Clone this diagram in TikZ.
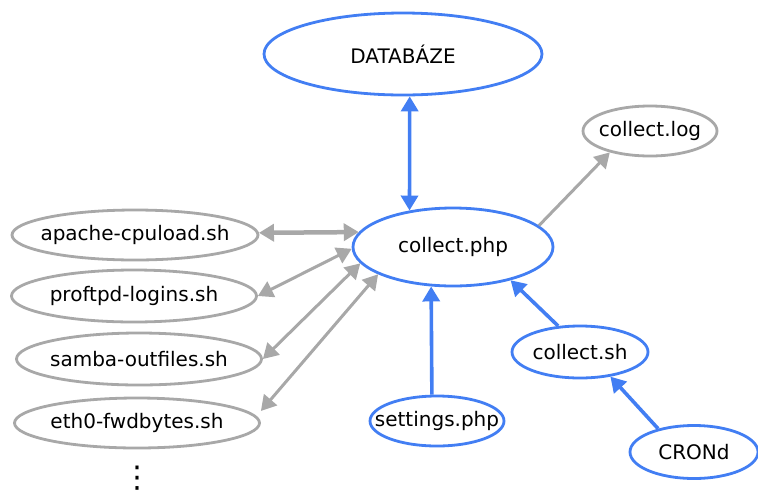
\documentclass[tikz,border=0pt]{standalone}
\usepackage{fontspec}
\setmainfont{DejaVu Sans}
\usetikzlibrary{shapes.geometric,arrows.meta}
\definecolor{gblue}{RGB}{66,126,243}
\definecolor{ggray}{RGB}{168,168,168}
\tikzset{
  oval/.style={ellipse, draw, line width=2.8pt, inner xsep=-40pt, inner ysep=-10pt,
    font=\fontsize{20}{24}\selectfont},
  bluenode/.style={oval, draw=gblue},
  graynode/.style={oval, draw=ggray},
  blueedge/.style={draw=gblue, fill=gblue, line width=3.6pt},
  grayedge/.style={draw=ggray, fill=ggray, line width=3pt},
  both/.style={{Triangle[length=15pt, width=17pt]}-{Triangle[length=15pt, width=17pt]}},
  fwd/.style={-{Triangle[length=15pt, width=17pt]}},
}
\begin{document}
\begin{tikzpicture}[x=1pt, y=-1pt]
\useasboundingbox (0,0) rectangle (758,491);

% nodes
\node[bluenode, minimum width=278pt, minimum height=82pt] (db) at (403,54) {DATABÁZE};
\node[bluenode, minimum width=200pt, minimum height=78pt] (php) at (453,247) {collect.php};
\node[graynode, minimum width=134pt, minimum height=50pt] (log) at (650,131) {collect.log};
\node[graynode, minimum width=246pt, minimum height=50pt] (apache) at (135,235) {apache-cpuload.sh};
\node[graynode, minimum width=245pt, minimum height=52pt] (proftpd) at (134,296) {proftpd-logins.sh};
\node[graynode, minimum width=245pt, minimum height=52pt] (samba) at (139,359) {samba-outfiles.sh};
\node[graynode, minimum width=245pt, minimum height=50pt] (eth) at (137,423) {eth0-fwdbytes.sh};
\node[bluenode, minimum width=136pt, minimum height=52pt] (csh) at (580,352) {collect.sh};
\node[bluenode, minimum width=134pt, minimum height=50pt] (settings) at (437,421) {settings.php};
\node[bluenode, minimum width=128pt, minimum height=53pt] (cron) at (694,452) {CRONd};
\node[inner sep=0pt, font=\fontsize{30}{30}\selectfont] (more) at (137,478) {⋮};

% database link
\draw[blueedge, both] (db.279.7) -- (php.140.7);

% blue inputs
\draw[blueedge, fwd] (settings.101.3) -- (php.241.1);
\draw[blueedge, fwd] (csh.130) -- (php.330.8);
\draw[blueedge, fwd] (cron.147) -- (csh.321);

% log output
\draw[grayedge, fwd] (php.14.5) -- (log.208.8);

% measurement scripts
\draw[grayedge, line width=4.5pt, both] (apache.1) -- (php.171.4);
\draw[grayedge, both] (proftpd.east) -- (php.181);
\draw[grayedge, both] (samba.east) -- (php.190);
\draw[grayedge, both] ([yshift=12pt]eth.east) -- (php.200.5);
\end{tikzpicture}
\end{document}
